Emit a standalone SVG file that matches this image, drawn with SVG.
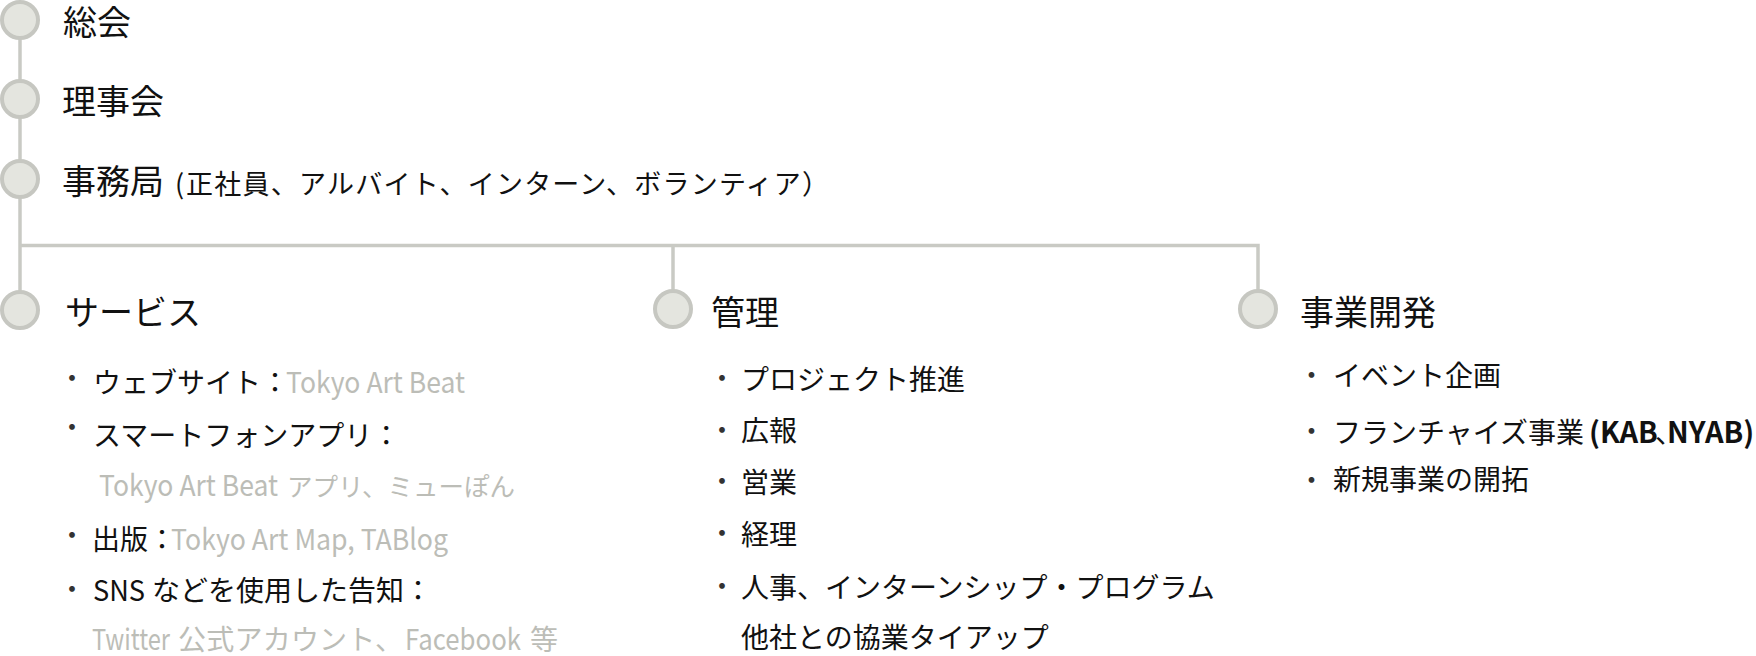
<svg xmlns="http://www.w3.org/2000/svg" width="1756" height="656" viewBox="0 0 1756 656">
<style>
.ln{stroke:#c9cac4;stroke-width:3.5;fill:none}
.nd{fill:#e4e5df;stroke:#c6c7c1;stroke-width:4}
.h{font-family:'Noto Sans CJK JP',sans-serif;font-size:34px;fill:#111}
.p{font-family:'Noto Sans CJK JP',sans-serif;font-size:27px;fill:#111}
.t{font-family:'Noto Sans CJK JP',sans-serif;font-size:28px;fill:#111}
.g{font-family:'Noto Sans CJK JP',sans-serif;font-size:28px;fill:#bcbdb7}
.gs{font-family:'Noto Sans CJK JP',sans-serif;font-size:25.5px;fill:#bcbdb7}
.gl{font-family:'Noto Sans CJK JP',sans-serif;font-size:29px;fill:#bcbdb7}
.b{font-family:'Noto Sans CJK JP',sans-serif;font-size:29px;font-weight:bold;fill:#111}
.d{font-family:'Noto Sans CJK JP',sans-serif;font-size:27px;fill:#333}
</style>
<rect width="1756" height="656" fill="#ffffff"/>
<g id="connectors">
<path class="ln" d="M20 20 V99"/>
<path class="ln" d="M20 99 V179"/>
<path class="ln" d="M20 179 V310"/>
<path class="ln" d="M20 245.5 H1258 V310"/>
<path class="ln" d="M673 245.5 V310"/>
</g>
<g id="node-soukai">
<circle class="nd" cx="20" cy="20" r="18"/>
<text class="h" x="63" y="34.5">総会</text>
</g>
<g id="node-rijikai">
<circle class="nd" cx="20" cy="99" r="18"/>
<text class="h" x="62" y="114">理事会</text>
</g>
<g id="node-jimukyoku">
<circle class="nd" cx="20" cy="179" r="18"/>
<text class="h" x="62" y="193.5">事務局</text>
<text class="p" x="175" y="193.5">(</text>
<text class="p" x="186" y="193.5" textLength="643" lengthAdjust="spacing">正社員、アルバイト、インターン、ボランティア）</text>
</g>
<g id="node-service">
<circle class="nd" cx="20" cy="310" r="18"/>
<text class="h" x="65" y="325">サービス</text>
<text class="d" x="58.5" y="388">・</text>
<text class="t" x="93" y="393">ウェブサイト：</text>
<text class="gl" x="286" y="393" textLength="179" lengthAdjust="spacingAndGlyphs">Tokyo Art Beat</text>
<text class="d" x="58.5" y="437">・</text>
<text class="t" x="93" y="446">スマートフォンアプリ：</text>
<text class="gl" x="99" y="496" textLength="179" lengthAdjust="spacingAndGlyphs">Tokyo Art Beat</text>
<text class="gs" x="287" y="496">アプリ、ミューぽん</text>
<text class="d" x="58.5" y="545">・</text>
<text class="t" x="92" y="550">出版：</text>
<text class="gl" x="171" y="550" textLength="277" lengthAdjust="spacingAndGlyphs">Tokyo Art Map, TABlog</text>
<text class="d" x="58.5" y="599">・</text>
<text class="t" x="93" y="601" textLength="52" lengthAdjust="spacingAndGlyphs">SNS</text>
<text class="t" x="152" y="601">などを使用した告知：</text>
<text class="gl" x="92" y="650" textLength="78" lengthAdjust="spacingAndGlyphs">Twitter</text>
<text class="g" x="178" y="650" textLength="225" lengthAdjust="spacing">公式アカウント、</text>
<text class="gl" x="405" y="650" textLength="116" lengthAdjust="spacingAndGlyphs">Facebook</text>
<text class="g" x="530" y="650">等</text>
</g>
<g id="node-kanri">
<circle class="nd" cx="673" cy="309" r="18"/>
<text class="h" x="711" y="325">管理</text>
<text class="d" x="708.5" y="388">・</text>
<text class="t" x="741" y="390">プロジェクト推進</text>
<text class="d" x="708.5" y="440">・</text>
<text class="t" x="741" y="441">広報</text>
<text class="d" x="708.5" y="491">・</text>
<text class="t" x="741" y="493">営業</text>
<text class="d" x="708.5" y="543">・</text>
<text class="t" x="741" y="545">経理</text>
<text class="d" x="708.5" y="596">・</text>
<text class="t" x="741" y="598">人事、インターンシップ・プログラム</text>
<text class="t" x="741" y="648">他社との協業タイアップ</text>
</g>
<g id="node-jigyou">
<circle class="nd" cx="1258" cy="309" r="18"/>
<text class="h" x="1300" y="325">事業開発</text>
<text class="d" x="1298" y="385">・</text>
<text class="t" x="1333" y="386">イベント企画</text>
<text class="d" x="1298" y="441">・</text>
<text class="t" x="1333" y="443">フランチャイズ事業</text>
<text class="b" y="443"><tspan x="1589">(KAB</tspan><tspan x="1655" style="font-size:28px;font-weight:normal">、</tspan><tspan x="1667">NYAB)</tspan></text>
<text class="d" x="1298" y="490">・</text>
<text class="t" x="1333" y="490">新規事業の開拓</text>
</g>
</svg>
